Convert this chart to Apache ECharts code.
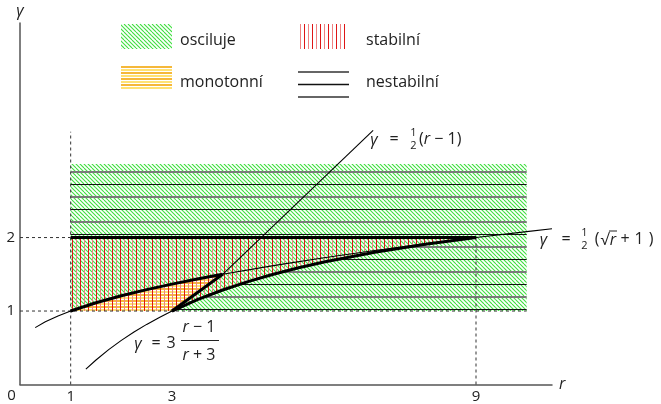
<!DOCTYPE html>
<html>
<head>
<meta charset="UTF-8">
<title>Stabilita</title>
<style>
html,body{margin:0;padding:0;background:#fff;}
#main{width:661px;height:404px;}
</style>
</head>
<body>
<div id="main"></div>
<script src="https://cdn.jsdelivr.net/npm/echarts@6/dist/echarts.min.js"></script>
<script>
// popisky os
var xTicks = [1, 3, 9];
var yTicks = [1, 2];

// gamma = 1/2 (sqrt(r) + 1)
var sqrtR = [0.3, 0.5, 0.75, 1, 1.5, 2, 2.5, 3, 3.5, 4, 5, 6, 7, 8, 9, 10, 10.5];
var sqrtG = [0.774, 0.854, 0.933, 1, 1.112, 1.207, 1.291, 1.366, 1.435, 1.5, 1.618, 1.725, 1.823, 1.914, 2, 2.081, 2.12];

// gamma = 3 (r - 1) / (r + 3)
var ratioR = [1.3, 1.5, 1.75, 2, 2.25, 2.5, 2.75, 3, 3.5, 4, 4.5, 5, 5.5, 6, 7, 8, 9];
var ratioG = [0.209, 0.333, 0.474, 0.6, 0.714, 0.818, 0.913, 1, 1.154, 1.286, 1.4, 1.5, 1.588, 1.667, 1.8, 1.909, 2];

// gamma = 1/2 (r - 1)  (v obrazku nad prusecikem strmejsi)
var lineR = [3, 4, 6.97];
var lineG = [1, 1.5, 3.46];

// obdelnik s oblastmi
var boxR = [1, 10];
var boxG = [1, 3];

// carkovane pomocne cary
var guideLowR = [0, 10],  guideLowG = [1, 1];
var guideTopR = [0, 1],   guideTopG = [2, 2];
var guideV1R = [1, 1],    guideV1G = [0, 3.44];
var guideV9R = [9, 9],    guideV9G = [0, 2];
// tlusta cara gamma = 2
var topR = [1, 9], topG = [2, 2];

var FONT = '"Open Sans", sans-serif';

function zip(rs, gs) {
	var out = [];
	for (var i = 0; i < rs.length; i++) out.push([rs[i], gs[i]]);
	return out;
}
function part(rs, gs, lo, hi) {
	return zip(rs, gs).filter(function (p) { return p[0] >= lo && p[0] <= hi; });
}

function makePattern(w, h, draw) {
	var c = document.createElement('canvas');
	c.width = w; c.height = h;
	draw(c.getContext('2d'));
	return { image: c, repeat: 'repeat' };
}

// sikme zelene srafovani
var greenHatch = makePattern(8, 8, function (ctx) {
	ctx.strokeStyle = '#3ee03e';
	ctx.lineWidth = 1.1;
	for (var k = -8; k <= 8; k += 4) {
		ctx.beginPath();
		ctx.moveTo(k, 0);
		ctx.lineTo(k + 8, 8);
		ctx.stroke();
	}
});
// svisle cervene cary
var redLines = makePattern(8, 8, function (ctx) {
	ctx.fillStyle = 'rgb(222,22,22)';
	ctx.fillRect(0, 0, 1, 8);
	ctx.fillStyle = 'rgb(240,130,130)';
	ctx.fillRect(4, 0, 1, 8);
});
// vodorovne zlute cary (s bilym pozadim, prekryje zelenou)
var yellowLines = makePattern(4, 6, function (ctx) {
	ctx.fillStyle = '#fff';
	ctx.fillRect(0, 0, 4, 6);
	ctx.fillStyle = '#f5b83a';
	ctx.fillRect(0, 0, 4, 2);
	ctx.fillStyle = '#ffe274';
	ctx.fillRect(0, 3, 4, 2);
});
// nestabilni: seda a cerna vodorovna cara
var greyLines = makePattern(4, 25, function (ctx) {
	ctx.fillStyle = '#7a7a7a';
	ctx.fillRect(0, 21, 4, 2);
	ctx.fillStyle = '#111';
	ctx.fillRect(0, 9, 4, 1);
});

// oblasti
var boxPoly = [[boxR[0], boxG[0]], [boxR[1], boxG[0]], [boxR[1], boxG[1]], [boxR[0], boxG[1]]];
var monoPoly = part(sqrtR, sqrtG, 1, 4).concat([[lineR[0], lineG[0]]]);
var stablePoly = [[1, 1]].concat(part(ratioR, ratioG, 3, 9)).concat([[topR[0], topG[0]]]);
var unstablePoly = [[boxR[0], boxG[1]], [boxR[1], boxG[1]], [boxR[1], boxG[0]]]
	.concat(part(ratioR, ratioG, 3, 9)).concat([[topR[0], topG[0]]]);

function areaSeries(poly, fill, z) {
	return {
		type: 'custom',
		coordinateSystem: 'cartesian2d',
		data: [[0, 0]],
		silent: true,
		z: z,
		renderItem: function (params, api) {
			return {
				type: 'polygon',
				shape: { points: poly.map(function (p) { return api.coord(p); }) },
				style: { fill: fill, stroke: null }
			};
		}
	};
}
function lineSeries(pts, width, dash, z) {
	return {
		type: 'line',
		data: pts,
		symbol: 'none',
		silent: true,
		z: z,
		lineStyle: { color: dash ? '#333' : '#000', width: width, type: dash ? [3, 3] : 'solid' }
	};
}

function txt(x, y, text, size, opts) {
	opts = opts || {};
	return {
		type: 'text',
		x: x, y: y,
		silent: true,
		style: {
			text: text,
			font: (opts.italic ? 'italic ' : '') + size + 'px ' + FONT,
			fill: opts.color || '#222',
			align: opts.align || 'center',
			verticalAlign: 'middle',
			rich: opts.rich
		}
	};
}
function seg(x1, y1, x2, y2, color, w) {
	return { type: 'line', silent: true, shape: { x1: x1, y1: y1, x2: x2, y2: y2 }, style: { stroke: color, lineWidth: w } };
}

var mathRich = {
	n: { fontSize: 16, fontFamily: FONT, color: '#222' },
	i: { fontSize: 16, fontFamily: FONT, fontStyle: 'italic', color: '#222' }
};

var myChart = echarts.init(document.getElementById('main'));
myChart.setOption({
	animation: false,
	grid: { left: 20, right: 109, top: 23, bottom: 19.5, outerBoundsMode: 'none' },
	xAxis: {
		type: 'value', min: 0, max: 10.5,
		name: 'r', nameLocation: 'end', nameGap: 7,
		nameTextStyle: { fontStyle: 'italic', fontSize: 16, color: '#222', fontFamily: FONT, verticalAlign: 'middle', padding: [0, 0, 2, 0] },
		axisLine: { onZero: false, lineStyle: { color: '#555', width: 1.5 } },
		axisTick: { show: false },
		splitLine: { show: false },
		axisLabel: { customValues: xTicks, margin: 5, fontSize: 15, color: '#222', fontFamily: FONT }
	},
	yAxis: {
		type: 'value', min: 0, max: 4.92,
		name: 'γ', nameLocation: 'end', nameGap: 4,
		nameTextStyle: { fontStyle: 'italic', fontSize: 16, color: '#222', fontFamily: FONT, align: 'center' },
		axisLine: { onZero: false, lineStyle: { color: '#555', width: 1.5 } },
		axisTick: { show: false },
		splitLine: { show: false },
		axisLabel: { customValues: yTicks, margin: 5, fontSize: 15, color: '#222', fontFamily: FONT }
	},
	graphic: [
		// legenda
		{ type: 'rect', silent: true, shape: { x: 121, y: 24, width: 51, height: 25 }, style: { fill: greenHatch } },
		{ type: 'rect', silent: true, shape: { x: 300, y: 24, width: 47, height: 25 }, style: { fill: redLines } },
		{ type: 'rect', silent: true, shape: { x: 121, y: 65, width: 51, height: 25 }, style: { fill: yellowLines } },
		seg(298, 72, 349, 72, '#666', 2),
		seg(298, 84.5, 349, 84.5, '#111', 1.3),
		seg(298, 97, 349, 97, '#666', 2),
		txt(180, 40, 'osciluje', 16, { align: 'left' }),
		txt(366, 40, 'stabilní', 16, { align: 'left' }),
		txt(180, 82, 'monotonní', 16, { align: 'left' }),
		txt(366, 82, 'nestabilní', 16, { align: 'left' }),
		// pocatek
		txt(11.5, 396, '0', 15),
		// gamma = 1/2 (r - 1)
		txt(374, 140, 'γ', 16, { italic: true }),
		txt(394, 139, '=', 16),
		txt(413.5, 133, '1', 11),
		txt(413.5, 146, '2', 11),
		txt(419, 139.5, '{n|(}{i|r}{n| − 1)}', 16, { align: 'left', rich: mathRich }),
		// gamma = 1/2 (sqrt r + 1)
		txt(543.5, 240, 'γ', 16, { italic: true }),
		txt(566, 239, '=', 16),
		txt(584.5, 233, '1', 11),
		txt(584.5, 246, '2', 11),
		txt(597, 239.5, '(', 16),
		txt(605, 240, '√', 16),
		txt(613, 240, 'r', 16, { italic: true }),
		seg(609, 231, 617, 231, '#222', 1),
		txt(625, 239.5, '+', 16),
		txt(639, 239.5, '1', 16),
		txt(651, 239.5, ')', 16),
		// gamma = 3 (r-1)/(r+3)
		txt(138, 344, 'γ', 16, { italic: true }),
		txt(156, 343, '=', 16),
		txt(171, 343, '3', 16),
		txt(199, 327, '{i|r}{n| − 1}', 16, { rich: mathRich }),
		seg(181, 340.5, 219, 340.5, '#222', 1),
		txt(199, 355, '{i|r}{n| + 3}', 16, { rich: mathRich })
	],
	series: [
		areaSeries(boxPoly, greenHatch, 1),
		areaSeries(monoPoly, yellowLines, 2),
		areaSeries(stablePoly, redLines, 3),
		areaSeries(unstablePoly, greyLines, 4),
		lineSeries(zip(guideLowR, guideLowG), 1, true, 5),
		lineSeries(zip(guideTopR, guideTopG), 1, true, 5),
		lineSeries(zip(guideV1R, guideV1G), 1, true, 5),
		lineSeries(zip(guideV9R, guideV9G), 1, true, 5),
		lineSeries(zip(sqrtR, sqrtG), 1.1, false, 6),
		lineSeries(part(ratioR, ratioG, 1.3, 3), 1.1, false, 6),
		lineSeries(part(lineR, lineG, 4, 7), 1.1, false, 6),
		lineSeries(part(sqrtR, sqrtG, 1, 4), 3, false, 7),
		lineSeries(part(ratioR, ratioG, 3, 9), 3, false, 7),
		lineSeries(part(lineR, lineG, 3, 4), 3, false, 7),
		lineSeries(zip(topR, topG), 3, false, 7)
	]
});
</script>
</body>
</html>
